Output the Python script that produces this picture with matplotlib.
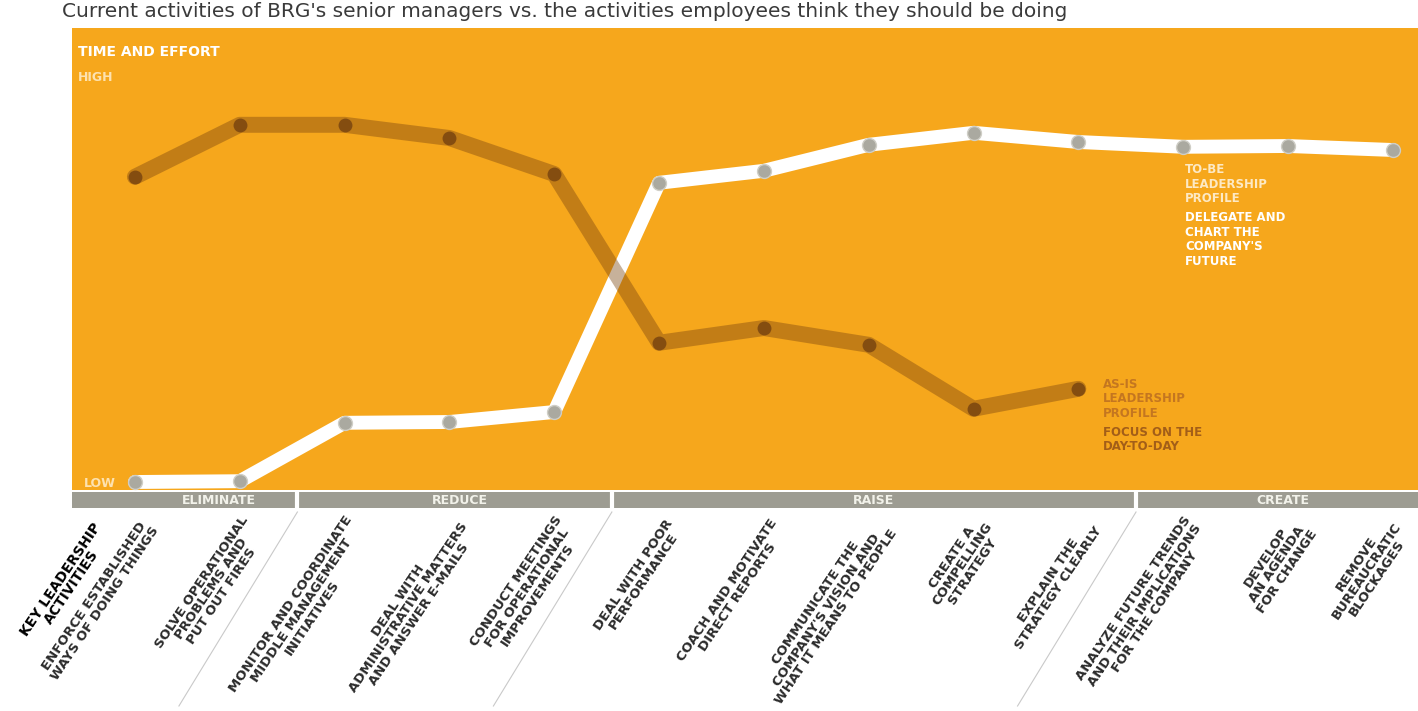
import matplotlib.pyplot as plt

# Key leadership activities (x axis, left to right)
activities = [
    "ENFORCE ESTABLISHED\nWAYS OF DOING THINGS",
    "SOLVE OPERATIONAL\nPROBLEMS AND\nPUT OUT FIRES",
    "MONITOR AND COORDINATE\nMIDDLE MANAGEMENT\nINITIATIVES",
    "DEAL WITH\nADMINISTRATIVE MATTERS\nAND ANSWER E-MAILS",
    "CONDUCT MEETINGS\nFOR OPERATIONAL\nIMPROVEMENTS",
    "DEAL WITH POOR\nPERFORMANCE",
    "COACH AND MOTIVATE\nDIRECT REPORTS",
    "COMMUNICATE THE\nCOMPANY'S VISION AND\nWHAT IT MEANS TO PEOPLE",
    "CREATE A\nCOMPELLING\nSTRATEGY",
    "EXPLAIN THE\nSTRATEGY CLEARLY",
    "ANALYZE FUTURE TRENDS\nAND THEIR IMPLICATIONS\nFOR THE COMPANY",
    "DEVELOP\nAN AGENDA\nFOR CHANGE",
    "REMOVE\nBUREAUCRATIC\nBLOCKAGES",
]

# Time and effort (relative score, low -> high)
to_be = [0.20, 0.22, 1.68, 1.70, 1.95, 7.68, 7.98, 8.63, 8.93, 8.70, 8.58, 8.60, 8.50]
as_is = [7.83, 9.13, 9.13, 8.80, 7.90, 3.68, 4.05, 3.63, 2.03, 2.53]

# Groups in the gray band: (name, first activity index, last activity index)
groups = ["ELIMINATE", "REDUCE", "RAISE", "CREATE"]
group_first = [0, 2, 5, 10]
group_last = [1, 4, 9, 12]

ORANGE = "#F6A71C"
BAND = "#9d9c92"
DARK = "#7a4510"

W, H = 1418, 711
fig = plt.figure(figsize=(W / 100, H / 100), dpi=100)
fig.patch.set_facecolor("white")

ax = fig.add_axes([72 / W, 1 - 490 / H, 1 - 72 / W, 462 / H])
ax.set_facecolor(ORANGE)
ax.set_xlim(-0.6, 12.24)
ax.set_ylim(0, 11.55)
ax.set_xticks([])
ax.set_yticks([])
for s in ax.spines.values():
    s.set_visible(False)

x_all = list(range(len(activities)))

# to-be line (white) with gray dots
ax.plot(x_all, to_be, color="white", lw=10, solid_capstyle="round",
        solid_joinstyle="round", zorder=2)
ax.plot(x_all, to_be, ls="none", marker="o", ms=10, color="#aaa9a0",
        markeredgecolor="#cfcec6", markeredgewidth=1, zorder=3)

# as-is line (dark translucent) with dark dots
x_as = x_all[:len(as_is)]
ax.plot(x_as, as_is, color=DARK, alpha=0.42, lw=11.5, solid_capstyle="round",
        solid_joinstyle="round", zorder=4)
ax.plot(x_as, as_is, ls="none", marker="o", ms=10, color=DARK, alpha=0.85,
        markeredgewidth=0, zorder=5)

# axis texts inside the panel
ax.text(0.0045, 0.948, "TIME AND EFFORT", transform=ax.transAxes, color="white",
        fontsize=10, fontweight="heavy", va="center", ha="left")
ax.text(0.0045, 0.892, "HIGH", transform=ax.transAxes, color="#fde2b0",
        fontsize=9, fontweight="bold", va="center", ha="left")
ax.text(0.009, 0.013, "LOW", transform=ax.transAxes, color="#fde2b0",
        fontsize=9, fontweight="bold", va="center", ha="left")

# series annotations
ax.annotate("TO-BE\nLEADERSHIP\nPROFILE", xy=(10, to_be[10]), xytext=(1.5, -12),
            textcoords="offset points", color="#fde9c4", fontsize=8.5,
            fontweight="bold", va="top", ha="left", linespacing=1.15)
ax.annotate("DELEGATE AND\nCHART THE\nCOMPANY'S\nFUTURE", xy=(10, to_be[10]),
            xytext=(1.5, -46.5), textcoords="offset points", color="white",
            fontsize=8.5, fontweight="heavy", va="top", ha="left", linespacing=1.15)
ax.annotate("AS-IS\nLEADERSHIP\nPROFILE", xy=(9, as_is[9]), xytext=(18, 8),
            textcoords="offset points", color="#c47620", fontsize=8.5,
            fontweight="bold", va="top", ha="left", linespacing=1.15)
ax.annotate("FOCUS ON THE\nDAY-TO-DAY", xy=(9, as_is[9]), xytext=(18, -26.5),
            textcoords="offset points", color="#a35e18", fontsize=8.5,
            fontweight="heavy", va="top", ha="left", linespacing=1.15)

# gray band with group names
band = fig.add_axes([72 / W, 1 - 508 / H, 1 - 72 / W, 16 / H])
band.set_facecolor(BAND)
band.set_xlim(ax.get_xlim())
band.set_ylim(0, 1)
band.set_xticks([])
band.set_yticks([])
for s in band.spines.values():
    s.set_visible(False)

group_label_x = [0.8, 3.1, 7.05, 10.95]
for name, gx in zip(groups, group_label_x):
    band.text(gx, 0.45, name, color="#f2f2ea", fontsize=9, fontweight="bold",
              ha="center", va="center")

boundaries = [(group_last[k] + group_first[k + 1]) / 2 + 0.05
              for k in range(len(groups) - 1)]
for b in boundaries:
    band.axvline(b, color="white", lw=3)
    # thin diagonal divider under the band
    ax.plot([b, b - 1.13], [-0.55, -5.4], color="#c9c9c9", lw=0.8,
            clip_on=False, zorder=1)

# rotated activity labels
for i, lab in enumerate(activities):
    ax.text(min(i + 0.15, 12.05), -0.85, lab, rotation=56, rotation_mode="anchor",
            ha="right", va="center", multialignment="center", fontsize=9.5,
            fontweight="bold", color="#2b2b2b", linespacing=0.95, clip_on=False)

ax.text(-0.3, -0.95, "KEY LEADERSHIP\nACTIVITIES", rotation=56,
        rotation_mode="anchor", ha="right", va="center", multialignment="center",
        fontsize=10, fontweight="heavy", color="black", linespacing=0.95,
        clip_on=False)

fig.text(62 / W, 1 - 17 / H,
         "Current activities of BRG's senior managers vs. the activities "
         "employees think they should be doing",
         fontsize=14.5, color="#3a3a3a", va="baseline", ha="left")

fig.savefig("out.png", dpi=100)
